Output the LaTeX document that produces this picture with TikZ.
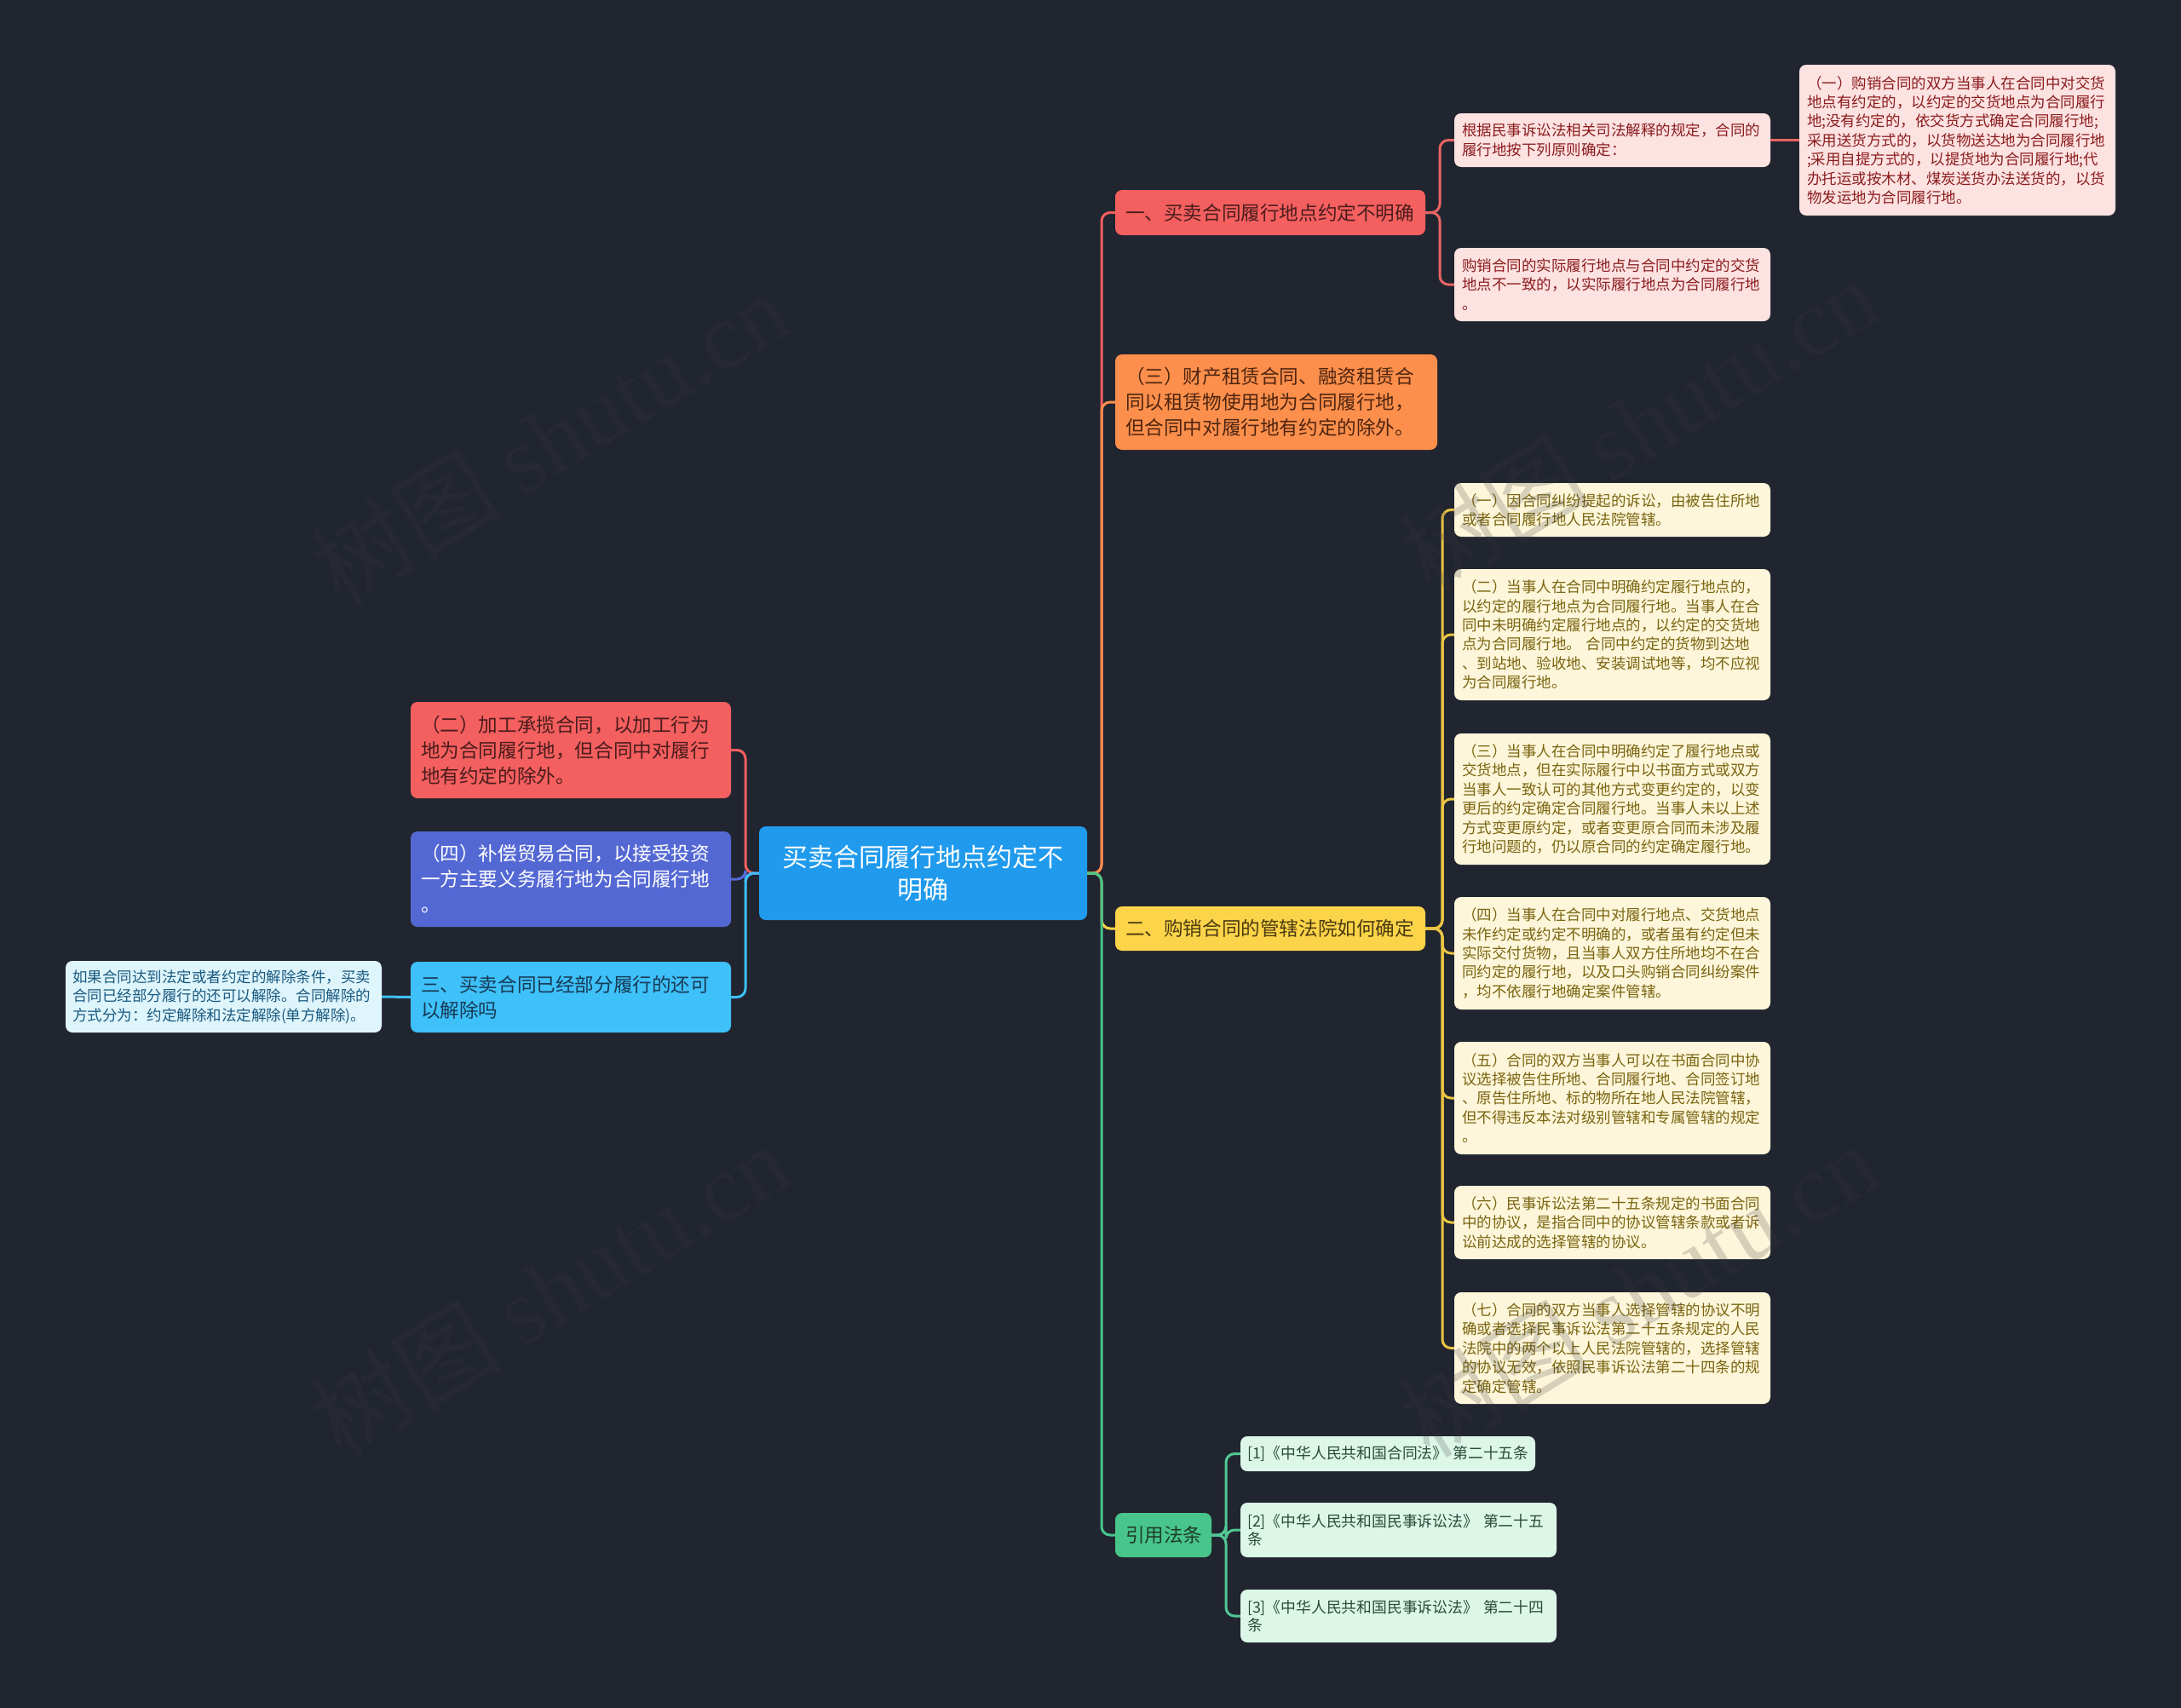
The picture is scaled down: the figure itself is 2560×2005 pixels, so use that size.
\documentclass[tikz,border=0pt]{standalone}
\usepackage{fontspec}
\setmainfont{Noto Sans CJK SC}
\newfontfamily\wmlatin{Liberation Serif}
\usetikzlibrary{calc}
\definecolor{bg}{HTML}{21252F}
\definecolor{cRoot}{HTML}{1F9AEC}
\definecolor{cRed}{HTML}{F45F5F}
\definecolor{cOrange}{HTML}{FD8F4C}
\definecolor{cYellow}{HTML}{FCD449}
\definecolor{cGreen}{HTML}{48C58A}
\definecolor{cIndigo}{HTML}{5468D4}
\definecolor{cSky}{HTML}{3EC0F8}
\definecolor{fSky}{HTML}{DFF5FC}
\definecolor{fPink}{HTML}{FDE2E2}
\definecolor{fCream}{HTML}{FDF6DA}
\definecolor{fMint}{HTML}{DCF6E8}
\definecolor{tRed}{HTML}{4A1C1C}
\definecolor{tOrange}{HTML}{4E2510}
\definecolor{tYellow}{HTML}{4A3A10}
\definecolor{tGreen}{HTML}{1D3D2C}
\definecolor{tSky}{HTML}{173A55}
\definecolor{tSkyLeaf}{HTML}{1A5A80}
\definecolor{tPink}{HTML}{8B1C1C}
\definecolor{tCream}{HTML}{7A6410}
\definecolor{tMint}{HTML}{2A4A38}
\definecolor{lPink}{HTML}{E86464}
\definecolor{lCream}{HTML}{EAC443}
\definecolor{lMint}{HTML}{52C794}
\definecolor{wmc}{HTML}{3C3C3C}

\tikzset{
  box/.style={rounded corners=8pt, inner ysep=0pt, align=left, anchor=center},
  bigbox/.style={box, font=\fontsize{22.6}{30}\selectfont},
  smallbox/.style={box, font=\fontsize{17.5}{22.4}\selectfont},
  refbox/.style={box, fill=fMint, text=tMint, font=\fontsize{17.8}{21.7}\selectfont},
  link/.style={line width=3pt, rounded corners=10pt},
  wm/.style={text=wmc, opacity=0.2, rotate=31.5, font=\fontsize{112}{112}\selectfont},
}
\newcommand\bx[8]{%
  \pgfmathsetmacro\bw{#4-#2}%
  \pgfmathsetmacro\bh{#5-#3}%
  \pgfmathsetmacro\btw{#4-#2-2*#6}%
  \pgfmathsetmacro\bcx{(#2+#4)/2}%
  \pgfmathsetmacro\bcy{(#3+#5)/2}%
  \node[#7, inner xsep=#6pt, minimum width=\bw pt, minimum height=\bh pt, text width=\btw pt] (#1) at (\bcx,\bcy) {#8};}

\begin{document}
\begin{tikzpicture}[x=1pt,y=-1pt]
\fill[bg] (0,0) rectangle (2560,2005);
\useasboundingbox (0,0) rectangle (2560,2005);

% root
\bx{root}{891}{970}{1276}{1080}{16}{box, fill=cRoot, text=white, align=center, font=\fontsize{30}{38}\selectfont}{买卖合同履行地点约定不\\明确}

% right main branches
\bx{n2}{1309}{223}{1673}{276}{12}{bigbox, fill=cRed, text=tRed}{一、买卖合同履行地点约定不明确}
\bx{n3}{1309}{416}{1687}{528}{12}{bigbox, fill=cOrange, text=tOrange}{（三）财产租赁合同、融资租赁合\\同以租赁物使用地为合同履行地，\\但合同中对履行地有约定的除外。}
\bx{n4}{1309}{1064}{1673}{1116}{12}{bigbox, fill=cYellow, text=tYellow}{二、购销合同的管辖法院如何确定}
\bx{n5}{1309}{1776}{1422}{1828}{12}{bigbox, fill=cGreen, text=tGreen}{引用法条}

% left main branches
\bx{n6}{482}{824}{858}{937}{12}{bigbox, fill=cRed, text=tRed}{（二）加工承揽合同，以加工行为\\地为合同履行地，但合同中对履行\\地有约定的除外。}
\bx{n7}{482}{976}{858}{1088}{12}{bigbox, fill=cIndigo, text=white}{（四）补偿贸易合同，以接受投资\\一方主要义务履行地为合同履行地\\。}
\bx{n8}{482}{1129}{858}{1212}{12}{bigbox, fill=cSky, text=tSky}{三、买卖合同已经部分履行的还可\\以解除吗}
\bx{n9}{77}{1128}{448}{1212}{8}{smallbox, fill=fSky, text=tSkyLeaf}{如果合同达到法定或者约定的解除条件，买卖\\合同已经部分履行的还可以解除。合同解除的\\方式分为：约定解除和法定解除(单方解除)。}

% children of n2
\bx{n10}{1707}{133}{2078}{196}{9}{smallbox, fill=fPink, text=tPink}{根据民事诉讼法相关司法解释的规定，合同的\\履行地按下列原则确定：}
\bx{n11}{2112}{76}{2483}{253}{9}{smallbox, fill=fPink, text=tPink}{（一）购销合同的双方当事人在合同中对交货\\地点有约定的，以约定的交货地点为合同履行\\地;没有约定的，依交货方式确定合同履行地;\\采用送货方式的，以货物送达地为合同履行地\\;采用自提方式的，以提货地为合同履行地;代\\办托运或按木材、煤炭送货办法送货的，以货\\物发运地为合同履行地。}
\bx{n12}{1707}{291}{2078}{377}{9}{smallbox, fill=fPink, text=tPink}{购销合同的实际履行地点与合同中约定的交货\\地点不一致的，以实际履行地点为合同履行地\\。}

% children of n4
\bx{y1}{1707}{567}{2078}{630}{9}{smallbox, fill=fCream, text=tCream}{（一）因合同纠纷提起的诉讼，由被告住所地\\或者合同履行地人民法院管辖。}
\bx{y2}{1707}{668}{2078}{822}{9}{smallbox, fill=fCream, text=tCream}{（二）当事人在合同中明确约定履行地点的，\\以约定的履行地点为合同履行地。当事人在合\\同中未明确约定履行地点的，以约定的交货地\\点为合同履行地。 合同中约定的货物到达地\\、到站地、验收地、安装调试地等，均不应视\\为合同履行地。}
\bx{y3}{1707}{861}{2078}{1015}{9}{smallbox, fill=fCream, text=tCream}{（三）当事人在合同中明确约定了履行地点或\\交货地点，但在实际履行中以书面方式或双方\\当事人一致认可的其他方式变更约定的，以变\\更后的约定确定合同履行地。当事人未以上述\\方式变更原约定，或者变更原合同而未涉及履\\行地问题的，仍以原合同的约定确定履行地。}
\bx{y4}{1707}{1053}{2078}{1185}{9}{smallbox, fill=fCream, text=tCream}{（四）当事人在合同中对履行地点、交货地点\\未作约定或约定不明确的，或者虽有约定但未\\实际交付货物，且当事人双方住所地均不在合\\同约定的履行地，以及口头购销合同纠纷案件\\，均不依履行地确定案件管辖。}
\bx{y5}{1707}{1223}{2078}{1355}{9}{smallbox, fill=fCream, text=tCream}{（五）合同的双方当事人可以在书面合同中协\\议选择被告住所地、合同履行地、合同签订地\\、原告住所地、标的物所在地人民法院管辖，\\但不得违反本法对级别管辖和专属管辖的规定\\。}
\bx{y6}{1707}{1392}{2078}{1478}{9}{smallbox, fill=fCream, text=tCream}{（六）民事诉讼法第二十五条规定的书面合同\\中的协议，是指合同中的协议管辖条款或者诉\\讼前达成的选择管辖的协议。}
\bx{y7}{1707}{1517}{2078}{1648}{9}{smallbox, fill=fCream, text=tCream}{（七）合同的双方当事人选择管辖的协议不明\\确或者选择民事诉讼法第二十五条规定的人民\\法院中的两个以上人民法院管辖的，选择管辖\\的协议无效，依照民事诉讼法第二十四条的规\\定确定管辖。}

% children of n5
\bx{g1}{1456}{1686}{1802}{1727}{8}{refbox}{\mbox{[1]《中华人民共和国合同法》 第二十五条}}
\bx{g2}{1456}{1764}{1827}{1828}{8}{refbox}{\mbox{[2]《中华人民共和国民事诉讼法》 第二十五}\\条}
\bx{g3}{1456}{1866}{1827}{1928}{8}{refbox}{\mbox{[3]《中华人民共和国民事诉讼法》 第二十四}\\条}

% trunks
\coordinate (tR) at (1293,0);
\coordinate (tL) at (875,0);
\coordinate (t2) at (1690,0);
\coordinate (t4) at (1693,0);
\coordinate (t5) at (1439,0);

% root -> right
\draw[link, cRed] (root.east) -| (tR |- n2.west) -- (n2.west);
\draw[link, cOrange] (root.east) -| (tR |- n3.west) -- (n3.west);
\draw[link, cYellow] (root.east) -| (tR |- n4.west) -- (n4.west);
\draw[link, cGreen] (root.east) -| (tR |- n5.west) -- (n5.west);
% root -> left
\draw[link, cRed] (root.west) -| (tL |- n6.east) -- (n6.east);
\draw[link, cIndigo] (root.west) -| (tL |- n7.east) -- (n7.east);
\draw[link, cSky] (root.west) -| (tL |- n8.east) -- (n8.east);
\draw[link, cSky] (n8.west) -- (n9.east);
% n2 children
\draw[link, lPink] (n2.east) -| (t2 |- n10.west) -- (n10.west);
\draw[link, lPink] (n2.east) -| (t2 |- n12.west) -- (n12.west);
\draw[link, lPink] (n10.east) -- (n11.west);
% n4 children
\foreach \c in {y1,y2,y3,y4,y5,y6,y7}
  \draw[link, lCream] (n4.east) -| (t4 |- \c.west) -- (\c.west);
% n5 children
\foreach \c in {g1,g2,g3}
  \draw[link, lMint] (n5.east) -| (t5 |- \c.west) -- (\c.west);

% watermarks
\node[wm] (w1) at (645,514) {树图 {\wmlatin shutu.cn}};
\node[wm] (w2) at (1923,498) {树图 {\wmlatin shutu.cn}};
\node[wm] (w3) at (645,1514) {树图 {\wmlatin shutu.cn}};
\node[wm] (w4) at (1923,1514) {树图 {\wmlatin shutu.cn}};
\end{tikzpicture}
\end{document}
